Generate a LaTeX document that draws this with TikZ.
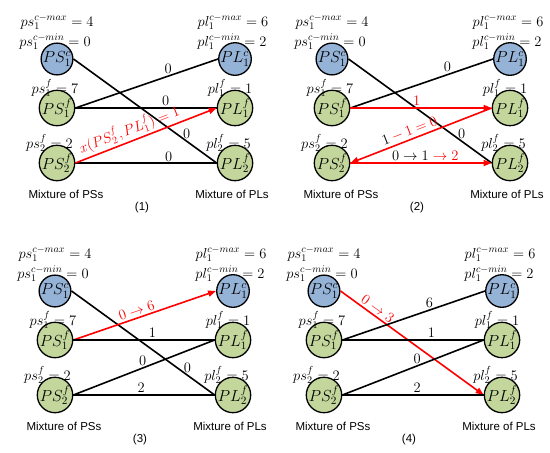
\RequirePackage{fix-cm}
\documentclass[tikz,border=0pt]{standalone}
\usepackage{fontspec}
\usepackage{xcolor}
\usetikzlibrary{arrows.meta}
\newfontfamily\arialf{Liberation Sans}
\definecolor{shblue}{HTML}{95B3D7}
\definecolor{lgreen}{HTML}{C3D69B}

\begin{document}
\begin{tikzpicture}[x=1pt,y=-1pt,
  font=\fontsize{14.5}{16}\selectfont,
  bus/.style={circle,draw=black,line width=1.3pt,minimum size=28pt,inner sep=0pt,font=\fontsize{16}{18}\selectfont},
  cbus/.style={bus,fill=shblue},
  fbus/.style={bus,fill=lgreen},
  val/.style={anchor=base},
  mixtxt/.style={anchor=base,font=\arialf\fontsize{11.5}{13}\selectfont},
  ln/.style={line width=1.6pt},
  ar/.style={-{Triangle[length=8pt,width=6pt]},red,line width=1.6pt},
  ra/.style={{Triangle[length=8pt,width=6pt]}-,red,line width=1.6pt},
  lab/.style={above,inner sep=2pt}
]
\useasboundingbox (0,0) rectangle (550,453);
\foreach \p/\px/\py/\n in {a/57/59/1,b/332/59/2,c/55/291/3,d/324/291/4}{
  \begin{scope}[shift={(\px,\py)}]
  \node[cbus] (\p-sc) at (0,0) {$PS_1^c$};
  \node[fbus] (\p-sf1) at (0,49) {$PS_1^f$};
  \node[fbus] (\p-sf2) at (0,104) {$PS_2^f$};
  \node[cbus] (\p-lc) at (178,0) {$PL_1^c$};
  \node[fbus] (\p-lf1) at (178,49) {$PL_1^f$};
  \node[fbus] (\p-lf2) at (178,104) {$PL_2^f$};
  \node[val] (\p-psmax) at (0,-33) {$ps_1^{c-max} = 4$};
  \node[val] (\p-psmin) at (-2,-13) {$ps_1^{c-min} = 0$};
  \node[val] (\p-ps1) at (-2,34) {$ps_1^f = 7$};
  \node[val] (\p-ps2) at (-7.5,89) {$ps_2^f = 2$};
  \node[val] (\p-plmax) at (176,-33) {$pl_1^{c-max} = 6$};
  \node[val] (\p-plmin) at (175,-13) {$pl_1^{c-min} = 2$};
  \node[val] (\p-pl1) at (173,34) {$pl_1^f = 1$};
  \node[val] (\p-pl2) at (171.5,89) {$pl_2^f = 5$};
  \node[mixtxt] (\p-mps) at (9,139) {Mixture of PSs};
  \node[mixtxt] (\p-mpl) at (175,139) {Mixture of PLs};
  \node[mixtxt] (\p-no) at (85,151) {(\n)};
  \end{scope}
}
% (1)
\draw[ln] (a-sc.east) -- node[lab,pos=0.79] {$0$} (a-lf2.west);
\draw[ln] (a-sf1.east) -- node[lab,pos=0.65] {$0$} (a-lc.west);
\draw[ln] (a-sf1.east) -- node[lab,pos=0.64] {$0$} (a-lf1.west);
\draw[ln] (a-sf2.east) -- node[lab,pos=0.66,inner sep=0.5pt] {$0$} (a-lf2.west);
\draw[ar] (a-sf2.east) -- node[lab,sloped,pos=0.41] {$x(PS_2^f,PL_1^f) = 1$} (a-lf1.west);
% (2)
\draw[ln] (b-sc.east) -- node[lab,pos=0.79] {$0$} (b-lf2.west);
\draw[ln] (b-sf1.east) -- node[lab,pos=0.68] {$0$} (b-lc.west);
\draw[ar] (b-sf1.east) -- node[lab,pos=0.47] {$1$} (b-lf1.west);
\draw[ra] (b-sf2.east) -- node[lab,sloped,pos=0.44,text=black] {$1{\color{red}{}-1=0}$} (b-lf1.west);
\draw[ar] (b-sf2.east) -- node[lab,pos=0.53,text=black] {$0\rightarrow1{\color{red}{}\rightarrow2}$} (b-lf2.west);
% (3)
\draw[ln] (c-sc.east) -- node[lab,pos=0.81] {$0$} (c-lf2.west);
\draw[ar] (c-sf1.east) -- node[lab,sloped,pos=0.46] {$0\rightarrow6$} (c-lc.west);
\draw[ln] (c-sf1.east) -- node[lab,pos=0.56] {$1$} (c-lf1.west);
\draw[ln] (c-sf2.east) -- node[lab,pos=0.49] {$0$} (c-lf1.west);
\draw[ln] (c-sf2.east) -- node[lab,pos=0.48] {$2$} (c-lf2.west);
% (4)
\draw[ar] (d-sc.east) -- node[lab,sloped,pos=0.23] {$0\rightarrow3$} (d-lf2.west);
\draw[ln] (d-sf1.east) -- node[lab,pos=0.61] {$6$} (d-lc.west);
\draw[ln] (d-sf1.east) -- node[lab,pos=0.63] {$1$} (d-lf1.west);
\draw[ln] (d-sf2.east) -- node[lab,pos=0.53] {$0$} (d-lf1.west);
\draw[ln] (d-sf2.east) -- node[lab,pos=0.53] {$2$} (d-lf2.west);
\end{tikzpicture}
\end{document}
